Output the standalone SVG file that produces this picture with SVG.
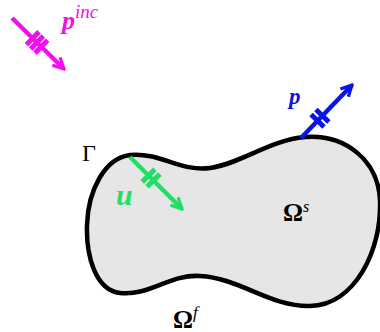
<svg xmlns="http://www.w3.org/2000/svg" width="380" height="332" viewBox="0 0 380 332">
<defs>
<style>
.shaft{fill:none;stroke-width:4.5;stroke-linecap:butt}
.mark{fill:none;stroke-width:5}
.lbl{font-family:"Liberation Serif","DejaVu Serif",serif;font-style:italic;font-weight:bold}
.sym{font-family:"Liberation Serif","DejaVu Serif",serif;fill:#000}
.mag{stroke:#ee11ee}
.blu{stroke:#0a14e8}
.grn{stroke:#22dd66}
</style>
<marker id="hm" markerUnits="userSpaceOnUse" viewBox="0 0 14 14" markerWidth="14" markerHeight="14" refX="12" refY="7" orient="auto"><path d="M1,1.5 L12,7 L1,12.5" fill="none" stroke="#ee11ee" stroke-width="3.2"/></marker>
<marker id="hb" markerUnits="userSpaceOnUse" viewBox="0 0 14 14" markerWidth="14" markerHeight="14" refX="12" refY="7" orient="auto"><path d="M1,1.5 L12,7 L1,12.5" fill="none" stroke="#0a14e8" stroke-width="3.2"/></marker>
<marker id="hg" markerUnits="userSpaceOnUse" viewBox="0 0 14 14" markerWidth="14" markerHeight="14" refX="12" refY="7" orient="auto"><path d="M1,1.5 L12,7 L1,12.5" fill="none" stroke="#22dd66" stroke-width="3.2"/></marker>
</defs>
<rect width="380" height="332" fill="#fff"/>
<g id="body">
<path d="M130,155 C160,152 180,172 210,168 C240,164 270,140 305,137 C345,134 378,160 380,200 C382,250 355,305 310,306 C270,307 240,278 200,276 C170,274 150,296 120,293 C95,290 86,255 87,225 C88,190 105,158 130,155 Z" fill="#e6e6e6" stroke="#000" stroke-width="4.5"/>
</g>
<g id="connectors">
<g id="p-inc-arrow">
<line class="shaft mag" x1="12" y1="18" x2="64" y2="69" marker-end="url(#hm)"/>
<g transform="translate(37,42.5) rotate(44.5)">
<line class="mark mag" x1="-6" y1="-9" x2="-6" y2="9"/>
<line class="mark mag" x1="0" y1="-9" x2="0" y2="9"/>
<line class="mark mag" x1="6" y1="-9" x2="6" y2="9"/>
</g>
</g>
<g id="p-arrow">
<line class="shaft blu" x1="301" y1="138" x2="352" y2="85" marker-end="url(#hb)"/>
<g transform="translate(320,118.3) rotate(-46)">
<line class="mark blu" x1="-3.5" y1="-9" x2="-3.5" y2="9"/>
<line class="mark blu" x1="3.5" y1="-9" x2="3.5" y2="9"/>
</g>
</g>
<g id="u-arrow">
<line class="shaft grn" x1="130" y1="157" x2="182" y2="209" marker-end="url(#hg)"/>
<g transform="translate(151,178) rotate(45)">
<line class="mark grn" x1="-3.5" y1="-9" x2="-3.5" y2="9"/>
<line class="mark grn" x1="3.5" y1="-9" x2="3.5" y2="9"/>
</g>
</g>
</g>
<g id="labels">
<text class="lbl" x="62" y="29" font-size="26" fill="#ee11ee">p<tspan dy="-11" font-size="19" font-weight="normal">inc</tspan></text>
<text class="lbl" x="289" y="104" font-size="23" fill="#0a14e8">p</text>
<text class="lbl" x="116" y="205" font-size="30" fill="#22dd66">u</text>
<text class="sym" x="82" y="161" font-size="24">Γ</text>
<text class="sym" x="283" y="221" font-size="25" font-weight="bold">Ω<tspan dy="-9" font-size="16" font-style="italic" font-weight="normal">s</tspan></text>
<text class="sym" x="173" y="328" font-size="25" font-weight="bold">Ω<tspan dy="-10" font-size="17" font-style="italic" font-weight="normal">f</tspan></text>
</g>
</svg>
